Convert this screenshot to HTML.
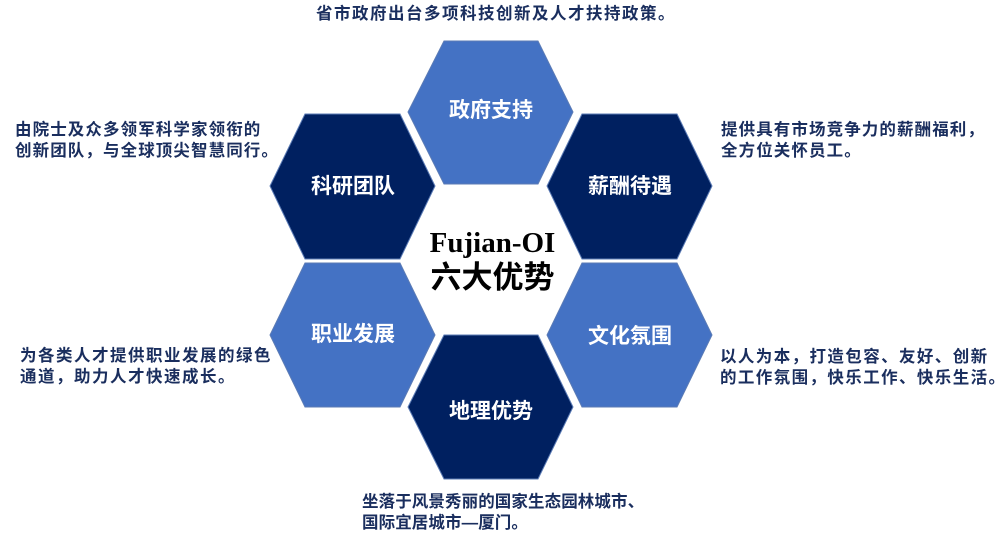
<!DOCTYPE html>
<html><head><meta charset="utf-8"><style>
html,body{margin:0;padding:0;background:#fff}
body{width:1000px;height:539px;position:relative;overflow:hidden;font-family:"Liberation Sans","Noto Sans CJK SC",sans-serif}
.t{position:absolute;white-space:nowrap;color:#1a2e5e;font-weight:bold;font-size:16.5px;line-height:21px;letter-spacing:1.1px}
svg{position:absolute;left:0;top:0}
.h{position:absolute;color:#fff;font-weight:bold;font-size:21px;text-align:center;width:166px;line-height:24px}
</style></head><body>
<svg width="1000" height="539">
<g stroke="#5b7bb5" stroke-width="1">
<polygon points="444,41 538,41 573,112 538,184 444,184 408,112" fill="#4472c4"/>
<polygon points="305,114 400,114 435,186 400,259 305,259 270,186" fill="#002060"/>
<polygon points="582,114 677,114 712,186 677,259 582,259 547,186" fill="#002060"/>
<polygon points="305,263 400,263 435,335 400,407 305,407 270,335" fill="#4472c4"/>
<polygon points="582,263 677,263 712,335 677,407 582,407 547,335" fill="#4472c4"/>
<polygon points="444,335 538,335 573,407 538,479 444,479 408,407" fill="#002060"/>
</g>
</svg>
<div class="h" style="left:408px;top:99px">政府支持</div>
<div class="h" style="left:270px;top:175px">科研团队</div>
<div class="h" style="left:547px;top:175px">薪酬待遇</div>
<div class="h" style="left:270px;top:323px">职业发展</div>
<div class="h" style="left:547px;top:325px">文化氛围</div>
<div class="h" style="left:408px;top:400px">地理优势</div>
<div style="position:absolute;left:400px;top:226px;width:185px;text-align:center;font-family:'Liberation Serif',serif;font-weight:bold;font-size:29px;line-height:34px">Fujian-OI</div>
<div style="position:absolute;left:400px;top:260px;width:185px;text-align:center;font-weight:bold;font-size:31px;line-height:36px">六大优势</div>
<div class="t" style="left:316px;top:4px;letter-spacing:1.5px">省市政府出台多项科技创新及人才扶持政策。</div>
<div class="t" style="left:15px;top:120px">由院士及众多领军科学家领衔的<br>创新团队，与全球顶尖智慧同行。</div>
<div class="t" style="left:721px;top:120px">提供具有市场竞争力的薪酬福利，<br>全方位关怀员工。</div>
<div class="t" style="left:20px;top:346px;letter-spacing:1.5px">为各类人才提供职业发展的绿色<br>通道，助力人才快速成长。</div>
<div class="t" style="left:720px;top:347px;letter-spacing:1.4px">以人为本，打造包容、友好、创新<br>的工作氛围，快乐工作、快乐生活。</div>
<div class="t" style="left:362px;top:492px;letter-spacing:0.1px">坐落于风景秀丽的国家生态园林城市、<br>国际宜居城市—厦门。</div>
</body></html>
